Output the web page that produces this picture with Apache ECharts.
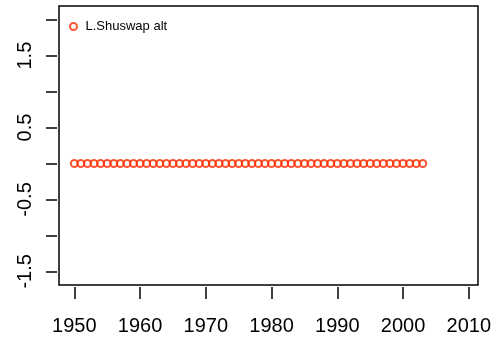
<!DOCTYPE html>
<html><head><meta charset="utf-8">
<script src="https://cdn.jsdelivr.net/npm/echarts@6/dist/echarts.min.js"></script>
<style>html,body{margin:0;padding:0;background:#fff}#c{width:504px;height:339px}</style>
</head><body><div id="c"></div>
<script>
const years = [1950,1951,1952,1953,1954,1955,1956,1957,1958,1959,1960,1961,1962,1963,1964,1965,1966,1967,1968,1969,1970,1971,1972,1973,1974,1975,1976,1977,1978,1979,1980,1981,1982,1983,1984,1985,1986,1987,1988,1989,1990,1991,1992,1993,1994,1995,1996,1997,1998,1999,2000,2001,2002,2003];
const values = [0,0,0,0,0,0,0,0,0,0,0,0,0,0,0,0,0,0,0,0,0,0,0,0,0,0,0,0,0,0,0,0,0,0,0,0,0,0,0,0,0,0,0,0,0,0,0,0,0,0,0,0,0,0];
const xTicks = [1950,1960,1970,1980,1990,2000,2010];
const yTicks = [-1.5,-1,-0.5,0,0.5,1,1.5,2];
const yLabels = [-1.5,-0.5,0.5,1.5];
const seriesName = 'L.Shuswap alt';

const font = 'Liberation Sans, Arial, Helvetica, sans-serif';
const chart = echarts.init(document.getElementById('c'), null, {renderer:'canvas'});
chart.setOption({
  animation:false,
  backgroundColor:'#fff',
  grid:{left:59, top:6, width:419, height:279, show:true, borderColor:'#000', borderWidth:1.5, backgroundColor:'transparent'},
  legend:{left:64, top:15, itemWidth:14, itemHeight:7, data:[seriesName],
    textStyle:{fontFamily:font, fontSize:13, color:'#000'}},
  xAxis:{type:'value', min:1947.67, max:2011.4, offset:2,
    splitLine:{show:false}, axisLine:{show:false, onZero:false},
    axisTick:{show:true, length:12, inside:false, customValues:xTicks, lineStyle:{color:'#000', width:1.5}},
    axisLabel:{customValues:xTicks, margin:29, fontFamily:font, fontSize:20, color:'#000',
      formatter:v=>String(v)}},
  yAxis:{type:'value', min:-1.69, max:2.19, offset:2,
    splitLine:{show:false}, axisLine:{show:false, onZero:false},
    axisTick:{show:true, length:11, inside:false, customValues:yTicks, lineStyle:{color:'#000', width:1.5}},
    axisLabel:{customValues:yLabels, rotate:90, margin:22, fontFamily:font, fontSize:20, color:'#000',
      formatter:v=>String(v)}},
  series:[{name:seriesName, type:'scatter', data:years.map((y,i)=>[y,values[i]]),
    symbol:'circle', symbolSize:7,
    itemStyle:{color:'rgba(255,255,255,0)', borderColor:'#FF2A00', borderWidth:2}}]
});
</script></body></html>
